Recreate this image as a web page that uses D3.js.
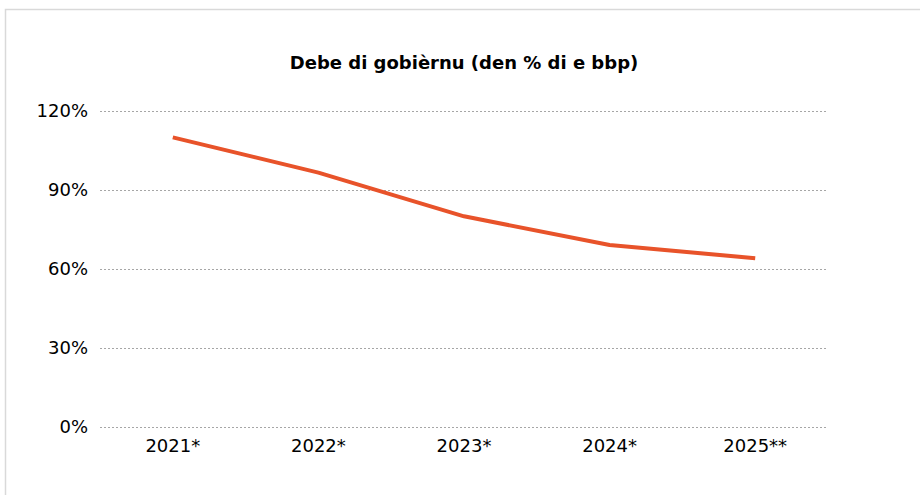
<!DOCTYPE html>
<html>
<head>
<meta charset="utf-8">
<script src="https://cdn.jsdelivr.net/npm/d3@7"></script>
<style>
  body { margin: 0; background: #fff; }
  svg { display: block; font-family: "DejaVu Sans", Verdana, sans-serif; }
</style>
</head>
<body>
<div id="chart"></div>
<script>
// data
const years = ["2021*", "2022*", "2023*", "2024*", "2025**"];
const debt = [110, 96.6, 80, 69.1, 64.1];
const yTicks = [0, 30, 60, 90, 120];
const title = "Debe di gobièrnu (den % di e bbp)";

const width = 920;
const height = 495;
const plot = { left: 100, right: 828, top: 111, bottom: 427 };

const svg = d3.select("#chart").append("svg")
  .attr("width", width)
  .attr("height", height);

// outer frame (only top + left visible in the shot)
svg.append("rect")
  .attr("x", 5.5).attr("y", 9.5)
  .attr("width", 930).attr("height", 500)
  .attr("fill", "none")
  .attr("stroke", "#d9d9d9")
  .attr("stroke-width", 1.5);

const x = d3.scaleBand()
  .domain(years)
  .range([plot.left, plot.right]);

const y = d3.scaleLinear()
  .domain([0, 120])
  .range([plot.bottom, plot.top]);

// gridlines
const yAxis = d3.axisLeft(y)
  .tickValues(yTicks)
  .tickSize(-(plot.right - plot.left))
  .tickPadding(12)
  .tickFormat(d => d + "%");

const gy = svg.append("g")
  .attr("transform", `translate(${plot.left},0)`)
  .call(yAxis);
gy.select(".domain").remove();
gy.selectAll(".tick line")
  .attr("stroke", "#a6a6a6")
  .attr("stroke-width", 1)
  .attr("stroke-dasharray", "2,2");
gy.selectAll(".tick text")
  .attr("font-size", 18)
  .attr("fill", "#000")
  .attr("font-family", "DejaVu Sans, Verdana, sans-serif");

// x labels
const gx = svg.append("g")
  .attr("transform", `translate(0,${plot.bottom})`)
  .call(d3.axisBottom(x).tickSize(0).tickPadding(12));
gx.select(".domain").remove();
gx.selectAll(".tick text")
  .attr("font-size", 18)
  .attr("fill", "#000")
  .attr("font-family", "DejaVu Sans, Verdana, sans-serif");

// the line
const line = d3.line()
  .x((d, i) => x(years[i]) + x.bandwidth() / 2)
  .y(d => y(d));

svg.append("path")
  .datum(debt)
  .attr("fill", "none")
  .attr("stroke", "#e8532a")
  .attr("stroke-width", 4)
  .attr("stroke-linejoin", "round")
  .attr("d", line);

// title
svg.append("text")
  .attr("x", (plot.left + plot.right) / 2)
  .attr("y", 69)
  .attr("text-anchor", "middle")
  .attr("font-size", 18)
  .attr("font-weight", "bold")
  .attr("fill", "#000")
  .text(title);
</script>
</body>
</html>
